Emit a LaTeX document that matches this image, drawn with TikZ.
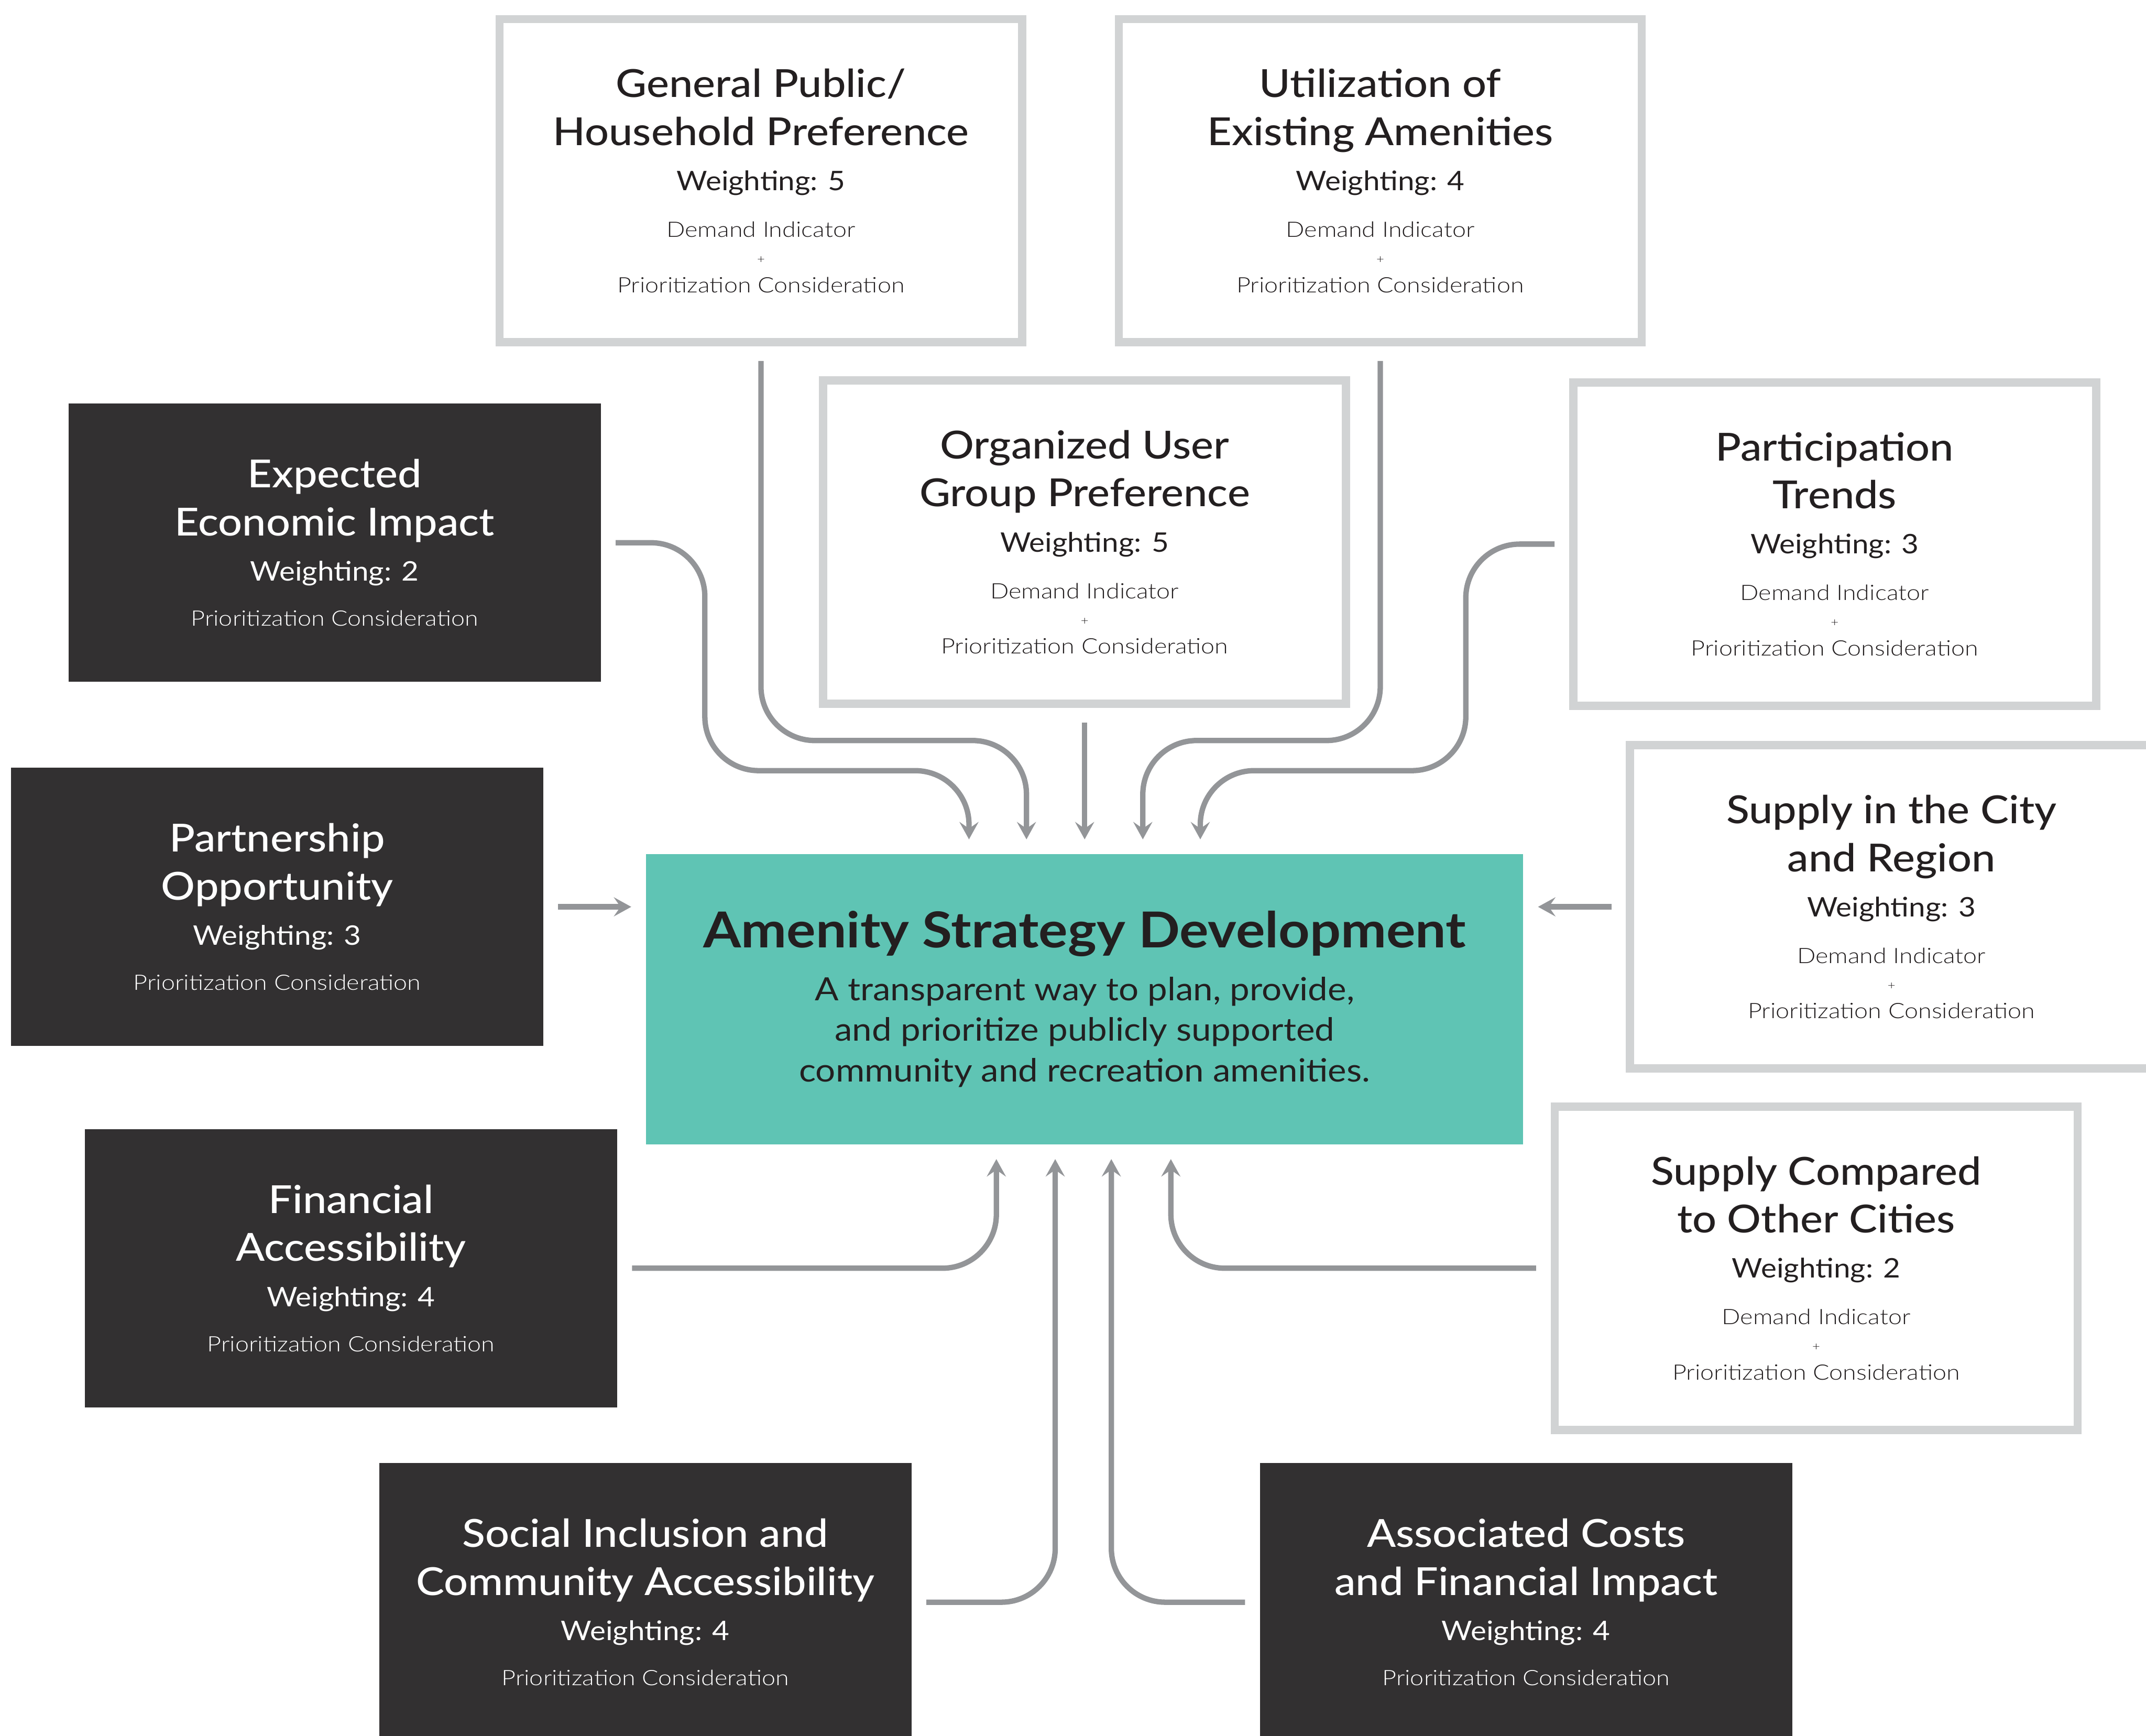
\documentclass[tikz,border=0pt]{standalone}
\usepackage{fontspec}
\setmainfont{Lato}[FakeStretch=1.1]
\newfontfamily\lightfont{Lato Light}[FakeStretch=1.15]
\newfontfamily\medfont{Lato Medium}[FakeStretch=1.1]
\usepackage{xcolor}
\usetikzlibrary{arrows.meta,calc}

\definecolor{boxline}{HTML}{D1D3D4}
\definecolor{boxdark}{HTML}{323031}
\definecolor{amenteal}{HTML}{5FC4B4}
\definecolor{arrowgray}{HTML}{939598}
\definecolor{inkdark}{HTML}{231F20}

\newcommand{\headsize}{\medfont\fontsize{26.5}{33}\selectfont}
\newcommand{\weight}[1]{{\rmfamily\fontsize{18.5}{20}\selectfont Weighting: #1}}
\newcommand{\smalltxt}[1]{{\lightfont\fontsize{14.6}{16}\selectfont #1}}
\newcommand{\plustxt}{{\lightfont\fontsize{8}{9}\selectfont +}}

\begin{document}
\begin{tikzpicture}[x=0.03303cm, y=-0.03303cm,
  demand/.style={draw=boxline, line width=0.2cm, fill=white, minimum width=12.62cm,
    minimum height=7.80cm, inner sep=0pt, align=center, text=inkdark, font=\headsize},
  consider/.style={fill=boxdark, minimum width=12.85cm, minimum height=6.71cm,
    inner sep=0pt, align=center, text=white, font=\headsize},
  core/.style={fill=amenteal, minimum width=21.17cm, minimum height=7.00cm,
    inner sep=0pt, align=center, text=inkdark, font=\rmfamily\fontsize{22}{28}\selectfont},
  flow/.style={draw=arrowgray, line width=0.13cm, rounded corners=1.3cm,
    -{Stealth[length=0.42cm, width=0.46cm, inset=0.16cm]},
    shorten <=10pt, shorten >=10pt}]
\useasboundingbox (0,0) rectangle (1568,1268);

\node[core] (asd) at (792.5,730) {{\bfseries\fontsize{34}{36}\selectfont Amenity Strategy Development}\\[8pt]
  A transparent way to plan, provide,\\
  and prioritize publicly supported\\
  community and recreation amenities.};

\node[demand] (gp) at (556,132) {General Public/\\Household Preference\\[-2pt]
  \weight{5}\\[-1pt] \smalltxt{Demand Indicator}\\[-15pt] \plustxt\\[-13pt] \smalltxt{Prioritization Consideration}};
\node[demand] (ue) at (1008.5,132) {Utilization of\\Existing Amenities\\[-2pt]
  \weight{4}\\[-1pt] \smalltxt{Demand Indicator}\\[-15pt] \plustxt\\[-13pt] \smalltxt{Prioritization Consideration}};
\node[demand] (ou) at (792.5,396) {Organized User\\Group Preference\\[-2pt]
  \weight{5}\\[-1pt] \smalltxt{Demand Indicator}\\[-15pt] \plustxt\\[-13pt] \smalltxt{Prioritization Consideration}};
\node[demand] (pt) at (1340.5,397.5) {Participation\\Trends\\[-2pt]
  \weight{3}\\[-1pt] \smalltxt{Demand Indicator}\\[-15pt] \plustxt\\[-13pt] \smalltxt{Prioritization Consideration}};
\node[demand] (sc) at (1382,662.5) {Supply in the City\\and Region\\[-2pt]
  \weight{3}\\[-1pt] \smalltxt{Demand Indicator}\\[-15pt] \plustxt\\[-13pt] \smalltxt{Prioritization Consideration}};
\node[demand] (so) at (1327,926.5) {Supply Compared\\to Other Cities\\[-2pt]
  \weight{2}\\[-1pt] \smalltxt{Demand Indicator}\\[-15pt] \plustxt\\[-13pt] \smalltxt{Prioritization Consideration}};

\node[consider] (ee) at (244.5,396.5) {Expected\\Economic Impact\\[-2pt]
  \weight{2}\\[-2pt] \smalltxt{Prioritization Consideration}};
\node[consider] (po) at (202.5,662.5) {Partnership\\Opportunity\\[-2pt]
  \weight{3}\\[-2pt] \smalltxt{Prioritization Consideration}};
\node[consider] (fa) at (256.5,926.5) {Financial\\Accessibility\\[-2pt]
  \weight{4}\\[-2pt] \smalltxt{Prioritization Consideration}};
\node[consider] (si) at (471.5,1170.5) {Social Inclusion and\\Community Accessibility\\[-2pt]
  \weight{4}\\[-2pt] \smalltxt{Prioritization Consideration}};
\node[consider] (ac) at (1115,1170.5) {Associated Costs\\and Financial Impact\\[-2pt]
  \weight{4}\\[-2pt] \smalltxt{Prioritization Consideration}};

\draw[flow] (ee.east) -| (515,563) -| ($(asd.north)+(-84.5,0)$);
\draw[flow] (gp.south) |- (750,541) -- ($(asd.north)+(-42.5,0)$);
\draw[flow] (ou.south) -- (asd.north);
\draw[flow] (ue.south) |- (835,541) -- ($(asd.north)+(42.5,0)$);
\draw[flow] (pt.west) -| (1071,563) -| ($(asd.north)+(84.5,0)$);
\draw[flow] (po.east) -- (asd.west |- po.east);
\draw[flow] (sc.west) -- (asd.east |- sc.west);
\draw[flow] (fa.east) -| ($(asd.south)+(-64.5,0)$);
\draw[flow] (si.east) -| ($(asd.south)+(-21.5,0)$);
\draw[flow] (ac.west) -| ($(asd.south)+(19.5,0)$);
\draw[flow] (so.west) -| ($(asd.south)+(63,0)$);
\end{tikzpicture}
\end{document}
